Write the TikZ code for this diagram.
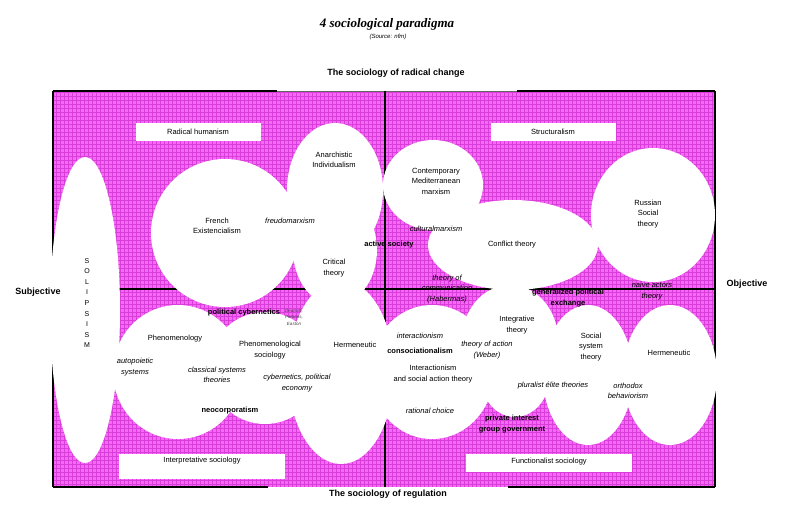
\documentclass[tikz,border=0pt]{standalone}
\usepackage{fontspec}
\setmainfont{Liberation Sans}
\newfontfamily\titlefont{Liberation Serif}
\usepackage{xcolor}
\definecolor{paradigmpink}{RGB}{246,104,246}
\definecolor{paradigmgrid}{RGB}{218,62,218}

\begin{document}
\begin{tikzpicture}[x=1pt,y=-1pt,
  blob/.style={fill=white},
  lbl/.style={font=\fontsize{7.5}{10.5}\selectfont, align=center, inner sep=0pt},
  ilbl/.style={lbl, font=\fontsize{7.5}{10.5}\selectfont\itshape},
  blbl/.style={lbl, font=\fontsize{7.5}{10.5}\selectfont\bfseries},
  axislbl/.style={font=\fontsize{9}{11}\selectfont\bfseries, inner sep=0pt},
  quadbox/.style={fill=white, minimum width=125pt, minimum height=18pt, inner sep=0pt, font=\fontsize{7.5}{10.5}\selectfont},
  thickline/.style={line width=1.5pt},
  gridline/.style={draw=paradigmgrid, line width=0.2pt}]
\useasboundingbox (0,0) rectangle (785,523);
\fill[paradigmpink] (53,91) rectangle (715,487);
\draw[gridline, step=4pt] (53,91) grid (715,487);
\draw[black!60, line width=0.4pt] (277,91) -- (517,91);
\draw[thickline] (53,91) -- (277,91);
\draw[thickline] (517,91) -- (715,91);
\draw[thickline] (53,487) -- (268,487);
\draw[thickline] (508,487) -- (715,487);
\draw[thickline] (53,91) -- (53,487);
\draw[thickline] (715,91) -- (715,487);
\draw[thickline] (53,289) -- (715,289);
\draw[thickline] (385,91) -- (385,487);
\fill[blob] (85,310) ellipse [x radius=35pt, y radius=153pt];
\fill[blob] (225,233) circle [radius=74pt];
\fill[blob] (335,190) ellipse [x radius=48pt, y radius=67pt];
\fill[blob] (335,250) ellipse [x radius=42pt, y radius=55pt];
\fill[blob] (433,185) ellipse [x radius=50pt, y radius=45pt];
\fill[blob] (513,245) ellipse [x radius=85pt, y radius=45pt];
\fill[blob] (653,215) ellipse [x radius=62pt, y radius=67pt];
\fill[blob] (178,372) ellipse [x radius=65pt, y radius=67pt];
\fill[blob] (265,368) circle [radius=56pt];
\fill[blob] (341,372) ellipse [x radius=53pt, y radius=92pt];
\fill[blob] (432,372) ellipse [x radius=62pt, y radius=67pt];
\fill[blob] (510,340) ellipse [x radius=48pt, y radius=55pt];
\fill[blob] (515,375) ellipse [x radius=35pt, y radius=42pt];
\fill[blob] (588,375) ellipse [x radius=45pt, y radius=70pt];
\fill[blob] (670,375) ellipse [x radius=47pt, y radius=70pt];
\node[quadbox] (radhum) at (198,132) {Radical humanism};
\node[quadbox] (struct) at (553,132) {Structuralism};
\node[quadbox, minimum width=166pt, minimum height=25pt, text depth=13pt] (interp) at (202,466) {Interpretative sociology};
\node[quadbox, minimum width=166pt, text depth=5pt] (funct) at (549,463) {Functionalist sociology};
\node[font=\titlefont\fontsize{13}{15}\selectfont\bfseries\itshape, inner sep=0pt] (title) at (387,24) {4 sociological paradigma};
\node[font=\fontsize{6}{7}\selectfont\itshape, inner sep=0pt] (source) at (388,37) {(Source: nfm)};
\node[axislbl] (radical) at (396,73) {The sociology of radical change};
\node[axislbl] (regul) at (388,494) {The sociology of regulation};
\node[axislbl] (subj) at (38,292) {Subjective};
\node[axislbl] (obj) at (747,284) {Objective};
\node[lbl, font=\fontsize{7}{10.6}\selectfont] (solips) at (87,303) {S\\O\\L\\I\\P\\S\\I\\S\\M};
\node[lbl] (french) at (217,226) {French\\Existencialism};
\node[lbl] (anarch) at (334,160) {Anarchistic\\Individualism};
\node[ilbl] (freudo) at (290,221) {freudomarxism};
\node[lbl] (critical) at (334,268) {Critical\\theory};
\node[blbl] (active) at (389,245) {active society};
\node[lbl] (medit) at (436,181) {Contemporary\\Mediterranean\\marxism};
\node[ilbl] (cultmarx) at (436,229) {culturalmarxism};
\node[lbl] (conflict) at (512,245) {Conflict theory};
\node[lbl] (russian) at (648,214) {Russian\\Social\\theory};
\node[ilbl] (habermas) at (447,289) {theory of\\communication\\(Habermas)};
\node[blbl] (genpol) at (568,298) {generalized political\\exchange};
\node[ilbl] (naive) at (652,291) {naive actors\\theory};
\node[lbl] (phenom) at (175,339) {Phenomenology};
\node[ilbl] (autopoi) at (135,367) {autopoietic\\systems};
\node[ilbl] (classsys) at (217,375) {classical systems\\theories};
\node[blbl] (polcyb) at (244,313) {political cybernetics};
\node[ilbl, font=\fontsize{4.5}{6.5}\selectfont\itshape, text=black!75] (deutsch) at (294,317) {Deutsch,\\Parsons,\\Easton};
\node[lbl] (phensoc) at (270,350) {Phenomenological\\sociology};
\node[ilbl] (cybpol) at (297,383) {cybernetics, political\\economy};
\node[lbl] (hermleft) at (355,345) {Hermeneutic};
\node[blbl] (neocorp) at (230,411) {neocorporatism};
\node[ilbl] (interact) at (420,336) {interactionism};
\node[blbl] (consoc) at (420,351) {consociationalism};
\node[lbl] (intsoc) at (433,374) {Interactionism\\and social action theory};
\node[ilbl] (ratchoice) at (430,411) {rational choice};
\node[ilbl] (weber) at (487,350) {theory of action\\(Weber)};
\node[lbl] (integr) at (517,325) {Integrative\\theory};
\node[lbl] (socsys) at (591,347) {Social\\system\\theory};
\node[lbl] (hermright) at (669,353) {Hermeneutic};
\node[ilbl] (pluralist) at (553,386) {pluralist élite theories};
\node[ilbl] (orthodox) at (628,391) {orthodox\\behaviorism};
\node[blbl] (privint) at (512,424) {private interest\\group government};
\end{tikzpicture}
\end{document}
